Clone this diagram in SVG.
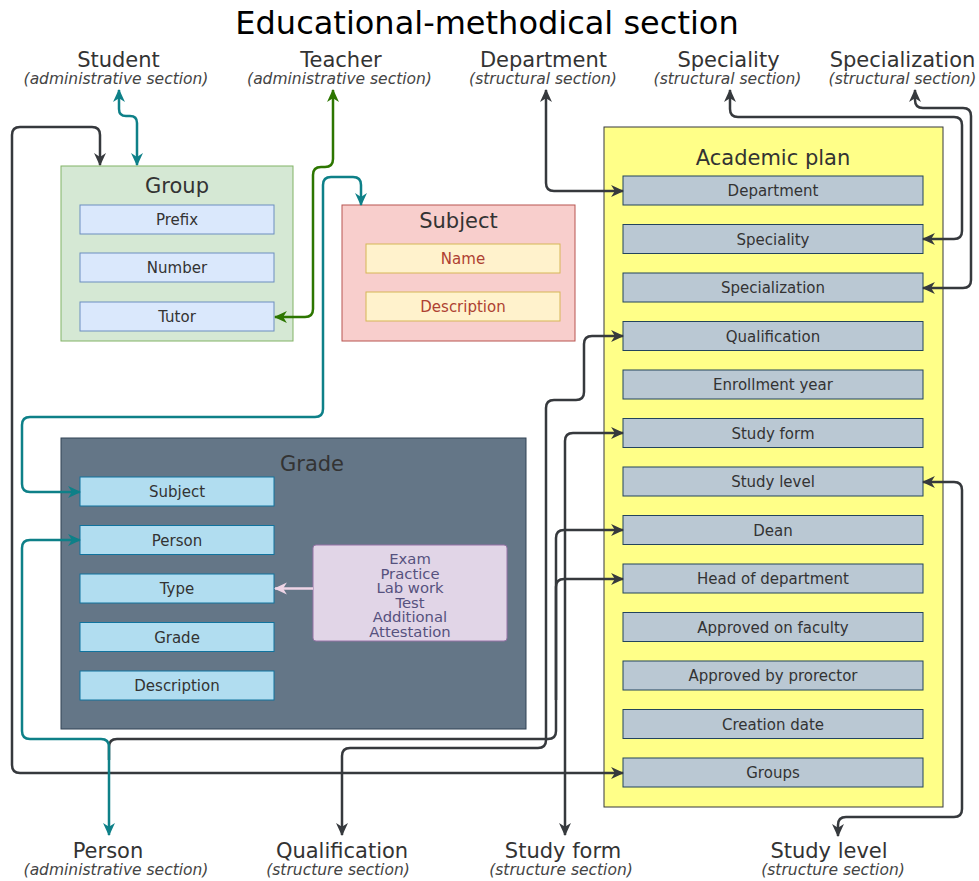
<svg xmlns="http://www.w3.org/2000/svg" width="979" height="881" viewBox="0 0 979 881">
<defs>
<style>
text{font-family:"DejaVu Sans","Liberation Sans",sans-serif;fill:#333;text-anchor:middle}
.title{font-size:32px;fill:#000}
.lbl{font-size:21px}
.sub{font-size:15.5px;font-style:italic;fill:#444}
.h{font-size:21px}
.f{font-size:15px}
.grp{fill:#d5e8d4;stroke:#82b366;stroke-width:1}
.gf{fill:#dae8fc;stroke:#6c8ebf;stroke-width:1}
.subj{fill:#f8cecc;stroke:#b85450;stroke-width:1}
.sf{fill:#fff2cc;stroke:#d6b656;stroke-width:1}
.sft{fill:#ae4132}
.plan{fill:#ffff88;stroke:#36393d;stroke-width:1}
.pf{fill:#bac8d3;stroke:#23445d;stroke-width:1}
.grade{fill:#647687;stroke:#314354;stroke-width:1}
.grf{fill:#b1ddf0;stroke:#10739e;stroke-width:1}
.enum{fill:#e1d5e7;stroke:#9673a6;stroke-width:1}
.et{font-size:14.8px;fill:#56517e}
.c{fill:none;stroke-width:2.5}
.dk{stroke:#36393d;marker-start:url(#ad);marker-end:url(#ad)}
.dk1{stroke:#36393d;marker-start:url(#ad)}
.tl{stroke:#0e8088;marker-start:url(#at);marker-end:url(#at)}
.gr{stroke:#2d7600;marker-start:url(#ag);marker-end:url(#ag)}
.pk{stroke:#eed5e6;marker-end:url(#ap)}
</style>
<marker id="ad" viewBox="0 0 12 12" markerUnits="userSpaceOnUse" markerWidth="13" markerHeight="13" refX="11" refY="6" orient="auto-start-reverse"><path d="M0,0.5 L12,6 L0,11.5 L3.5,6 z" fill="#36393d"/></marker>
<marker id="at" viewBox="0 0 12 12" markerUnits="userSpaceOnUse" markerWidth="13" markerHeight="13" refX="11" refY="6" orient="auto-start-reverse"><path d="M0,0.5 L12,6 L0,11.5 L3.5,6 z" fill="#0e8088"/></marker>
<marker id="ag" viewBox="0 0 12 12" markerUnits="userSpaceOnUse" markerWidth="13" markerHeight="13" refX="11" refY="6" orient="auto-start-reverse"><path d="M0,0.5 L12,6 L0,11.5 L3.5,6 z" fill="#2d7600"/></marker>
<marker id="ap" viewBox="0 0 12 12" markerUnits="userSpaceOnUse" markerWidth="13" markerHeight="13" refX="11" refY="6" orient="auto-start-reverse"><path d="M0,0.5 L12,6 L0,11.5 L3.5,6 z" fill="#eed5e6"/></marker>
</defs>
<rect width="979" height="881" fill="#fff"/>
<text class="title" x="487" y="34">Educational-methodical section</text>

<g id="lbl-student"><text class="lbl" x="118.5" y="67">Student</text><text class="sub" x="116" y="84">(administrative section)</text></g>
<g id="lbl-teacher"><text class="lbl" x="341" y="67">Teacher</text><text class="sub" x="339.5" y="84">(administrative section)</text></g>
<g id="lbl-department"><text class="lbl" x="543.5" y="67">Department</text><text class="sub" x="543" y="84">(structural section)</text></g>
<g id="lbl-speciality"><text class="lbl" x="728.5" y="67">Speciality</text><text class="sub" x="727.5" y="84">(structural section)</text></g>
<g id="lbl-specialization"><text class="lbl" x="902.5" y="67">Specialization</text><text class="sub" x="902.5" y="84">(structural section)</text></g>
<g id="lbl-person"><text class="lbl" x="108" y="858">Person</text><text class="sub" x="116" y="875">(administrative section)</text></g>
<g id="lbl-qualification"><text class="lbl" x="342" y="858">Qualification</text><text class="sub" x="338" y="875">(structure section)</text></g>
<g id="lbl-studyform"><text class="lbl" x="563" y="858">Study form</text><text class="sub" x="561" y="875">(structure section)</text></g>
<g id="lbl-studylevel"><text class="lbl" x="829" y="858">Study level</text><text class="sub" x="833" y="875">(structure section)</text></g>

<g id="group">
<rect class="grp" x="61" y="166" width="232" height="175"/>
<text class="h" x="177" y="193">Group</text>
<rect class="gf" x="80" y="205" width="194" height="29"/><text class="f" x="177" y="225">Prefix</text>
<rect class="gf" x="80" y="253" width="194" height="29"/><text class="f" x="177" y="273">Number</text>
<rect class="gf" x="80" y="302" width="194" height="29"/><text class="f" x="177" y="322">Tutor</text>
</g>

<g id="subject">
<rect class="subj" x="342" y="205" width="233" height="136"/>
<text class="h" x="458.5" y="228">Subject</text>
<rect class="sf" x="366" y="244" width="194" height="29"/><text class="f sft" x="463" y="264">Name</text>
<rect class="sf" x="366" y="292" width="194" height="29"/><text class="f sft" x="463" y="312">Description</text>
</g>

<g id="academic-plan">
<rect class="plan" x="604" y="127" width="339" height="680"/>
<text class="h" x="773" y="165">Academic plan</text>
<rect class="pf" x="623" y="176" width="300" height="29"/><text class="f" x="773" y="196">Department</text>
<rect class="pf" x="623" y="224.5" width="300" height="29"/><text class="f" x="773" y="244.5">Speciality</text>
<rect class="pf" x="623" y="273" width="300" height="29"/><text class="f" x="773" y="293">Specialization</text>
<rect class="pf" x="623" y="321.5" width="300" height="29"/><text class="f" x="773" y="341.5">Qualification</text>
<rect class="pf" x="623" y="370" width="300" height="29"/><text class="f" x="773" y="390">Enrollment year</text>
<rect class="pf" x="623" y="418.5" width="300" height="29"/><text class="f" x="773" y="438.5">Study form</text>
<rect class="pf" x="623" y="467" width="300" height="29"/><text class="f" x="773" y="487">Study level</text>
<rect class="pf" x="623" y="515.5" width="300" height="29"/><text class="f" x="773" y="535.5">Dean</text>
<rect class="pf" x="623" y="564" width="300" height="29"/><text class="f" x="773" y="584">Head of department</text>
<rect class="pf" x="623" y="612.5" width="300" height="29"/><text class="f" x="773" y="632.5">Approved on faculty</text>
<rect class="pf" x="623" y="661" width="300" height="29"/><text class="f" x="773" y="681">Approved by prorector</text>
<rect class="pf" x="623" y="709.5" width="300" height="29"/><text class="f" x="773" y="729.5">Creation date</text>
<rect class="pf" x="623" y="758" width="300" height="29"/><text class="f" x="773" y="778">Groups</text>
</g>

<g id="grade">
<rect class="grade" x="61" y="438" width="465" height="291"/>
<text class="h" x="312" y="471">Grade</text>
<rect class="grf" x="80" y="477" width="194" height="29"/><text class="f" x="177" y="497">Subject</text>
<rect class="grf" x="80" y="525.5" width="194" height="29"/><text class="f" x="177" y="545.5">Person</text>
<rect class="grf" x="80" y="574" width="194" height="29"/><text class="f" x="177" y="594">Type</text>
<rect class="grf" x="80" y="622.5" width="194" height="29"/><text class="f" x="177" y="642.5">Grade</text>
<rect class="grf" x="80" y="671" width="194" height="29"/><text class="f" x="177" y="691">Description</text>
</g>

<g id="grade-types">
<rect class="enum" x="313" y="545" width="194" height="96" rx="3"/>
<text class="et" x="410" y="564">Exam</text>
<text class="et" x="410" y="578.5">Practice</text>
<text class="et" x="410" y="593">Lab work</text>
<text class="et" x="410" y="607.5">Test</text>
<text class="et" x="410" y="622">Additional</text>
<text class="et" x="410" y="636.5">Attestation</text>
</g>

<g id="connectors">
<path class="c pk" d="M313,588.5 H275"/>
<path class="c dk" d="M100,165 V135 Q100,127 92,127 H20 Q12,127 12,135 V765 Q12,773 20,773 H623"/>
<path class="c dk" d="M546,90 V183 Q546,191 554,191 H623"/>
<path class="c dk" d="M730,90 V109 Q730,117 738,117 H954 Q962,117 962,125 V231 Q962,239 954,239 H923"/>
<path class="c dk" d="M915,90 V100 Q915,108 923,108 H963 Q971,108 971,116 V280 Q971,288 963,288 H923"/>
<path class="c dk" d="M623,336 H592 Q584,336 584,344 V392 Q584,400 576,400 H554 Q546,400 546,408 V740 Q546,748 538,748 H350 Q342,748 342,756 V835"/>
<path class="c dk" d="M623,433 H573 Q565,433 565,441 V835"/>
<path class="c dk" d="M923,482 H954 Q962,482 962,490 V809 Q962,817 954,817 H846 Q838,817 838,825 V836"/>
<path class="c dk1" d="M623,530 H564 Q556,530 556,538 V731 Q556,739 548,739 H117 Q109,739 109,747 V760"/>
<path class="c dk1" d="M623,579 H564 Q556,579 556,587 V700"/>
<path class="c tl" d="M119,90 V109 Q119,116 126,116 H130 Q137,116 137,123 V165"/>
<path class="c gr" d="M333,90 V159 Q333,167 325,167 H321 Q313,167 313,175 V309 Q313,317 305,317 H275"/>
<path class="c tl" d="M361,205 V185 Q361,177 353,177 H331 Q323,177 323,185 V409 Q323,417 315,417 H30 Q22,417 22,425 V484 Q22,492 30,492 H80"/>
<path class="c tl" d="M80,540 H30 Q22,540 22,548 V731 Q22,739 30,739 H101 Q109,739 109,747 V835"/>
</g>
</svg>
